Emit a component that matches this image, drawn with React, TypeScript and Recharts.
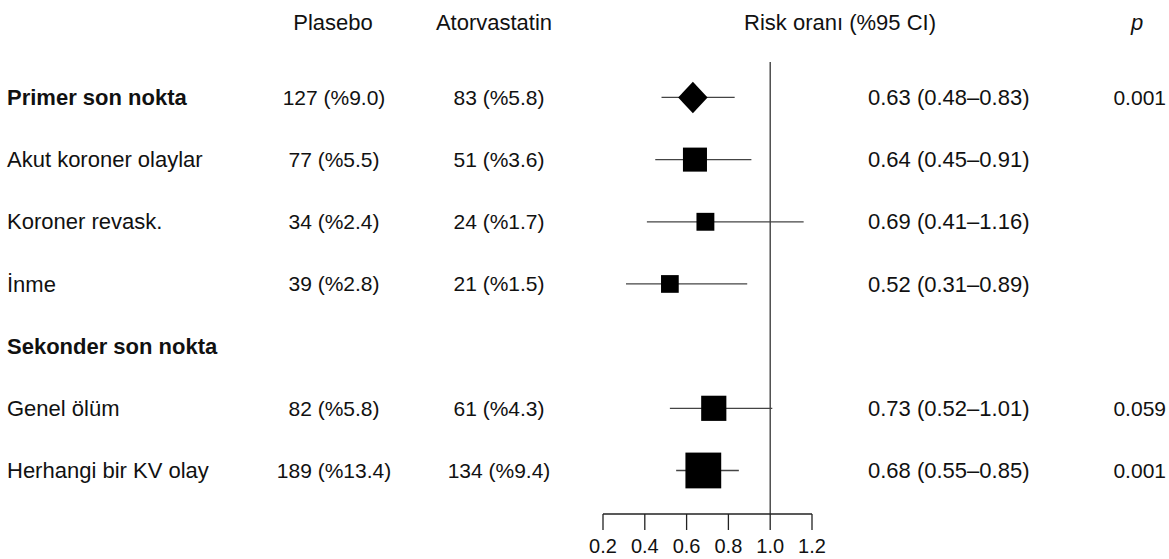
import { ScatterChart, Scatter, XAxis, YAxis, ErrorBar, ReferenceLine } from 'recharts';

const rowLabels = [
  'Primer son nokta',
  'Akut koroner olaylar',
  'Koroner revask.',
  'İnme',
  'Sekonder son nokta',
  'Genel ölüm',
  'Herhangi bir KV olay',
];
const boldLabels = ['Primer son nokta', 'Sekonder son nokta'];

const plaseboEvents = [127, 77, 34, 39, null, 82, 189];
const plaseboPct = [9.0, 5.5, 2.4, 2.8, null, 5.8, 13.4];
const atorvaEvents = [83, 51, 24, 21, null, 61, 134];
const atorvaPct = [5.8, 3.6, 1.7, 1.5, null, 4.3, 9.4];

const riskRatio = [0.63, 0.64, 0.69, 0.52, null, 0.73, 0.68];
const ciLow = [0.48, 0.45, 0.41, 0.31, null, 0.52, 0.55];
const ciHigh = [0.83, 0.91, 1.16, 0.89, null, 1.01, 0.85];
const pValues = ['0.001', '', '', '', '', '0.059', '0.001'];

const xTicks = [0.2, 0.4, 0.6, 0.8, 1.0, 1.2];
const headers = ['Plasebo', 'Atorvastatin', 'Risk oranı (%95 CI)', 'p'];

const FONT = '"Liberation Sans", Arial, Helvetica, sans-serif';
const INK = '#111';

const points = rowLabels
  .map((label, i) => ({
    row: i,
    label,
    hr: riskRatio[i],
    lo: ciLow[i],
    hi: ciHigh[i],
    err: riskRatio[i] == null ? null : [riskRatio[i]! - ciLow[i]!, ciHigh[i]! - riskRatio[i]!],
  }))
  .filter((d) => d.hr != null);

function countText(n: number | null, pct: number | null) {
  if (n == null || pct == null) return '';
  return `${n} (%${pct.toFixed(1)})`;
}

function RowTick(props: any) {
  const { y, payload } = props;
  const i = payload.value as number;
  const label = rowLabels[i];
  const bold = boldLabels.includes(label);
  const hr = riskRatio[i];
  return (
    <g fontFamily={FONT} fill={INK}>
      <text x={7} y={y} dy="0.35em" fontSize={22} fontWeight={bold ? 700 : 400}>
        {label}
      </text>
      <text x={334} y={y} dy="0.35em" fontSize={21} textAnchor="middle">
        {countText(plaseboEvents[i], plaseboPct[i])}
      </text>
      <text x={499} y={y} dy="0.35em" fontSize={21} textAnchor="middle">
        {countText(atorvaEvents[i], atorvaPct[i])}
      </text>
      {hr != null && (
        <text x={868} y={y} dy="0.35em" fontSize={22}>
          {`${hr.toFixed(2)} (${ciLow[i]!.toFixed(2)}–${ciHigh[i]!.toFixed(2)})`}
        </text>
      )}
      <text x={1166} y={y} dy="0.35em" fontSize={21} textAnchor="end">
        {pValues[i]}
      </text>
    </g>
  );
}

// marker size follows precision (inverse CI width on log scale)
function Marker(props: any) {
  const { cx, cy, payload } = props;
  if (cx == null || cy == null) return null;
  const size = 5 + 13.4 / Math.log(payload.hi / payload.lo);
  if (boldLabels.includes(payload.label)) {
    const h = size / 2 + 1;
    const w = size / 2;
    return (
      <polygon
        points={`${cx},${cy - h} ${cx + w},${cy} ${cx},${cy + h} ${cx - w},${cy}`}
        fill="#000"
      />
    );
  }
  return <rect x={cx - size / 2} y={cy - size / 2} width={size} height={size} fill="#000" />;
}

function Headers() {
  return (
    <g fontFamily={FONT} fill={INK} fontSize={22}>
      <text x={333} y={30} textAnchor="middle">{headers[0]}</text>
      <text x={494} y={30} textAnchor="middle">{headers[1]}</text>
      <text x={840} y={30} textAnchor="middle">{headers[2]}</text>
      <text x={1137} y={30} textAnchor="middle" fontStyle="italic">{headers[3]}</text>
    </g>
  );
}

export default function App() {
  return (
    <div style={{ position: 'absolute', left: 0, top: 0, background: '#fff' }}>
      <ScatterChart width={1169} height={559} margin={{ top: 62, right: 357, bottom: 0, left: 0 }}>
        <XAxis
          type="number"
          dataKey="hr"
          domain={[0.2, 1.2]}
          ticks={xTicks}
          tickFormatter={(v) => Number(v).toFixed(1)}
          tickSize={16}
          tickMargin={9}
          height={45}
          axisLine={{ stroke: '#222', strokeWidth: 1.3 }}
          tickLine={{ stroke: '#222', strokeWidth: 1.3 }}
          tick={{ fontSize: 20, fill: INK, fontFamily: FONT }}
          allowDataOverflow
        />
        <YAxis
          type="number"
          dataKey="row"
          domain={[-0.57, 6.7]}
          reversed
          ticks={[0, 1, 2, 3, 4, 5, 6]}
          width={603}
          axisLine={false}
          tickLine={false}
          tick={<RowTick />}
          allowDataOverflow
        />
        <ReferenceLine x={1} stroke="#333" strokeWidth={1.3} />
        <Scatter data={points} shape={() => null} isAnimationActive={false}>
          <ErrorBar dataKey="err" direction="x" width={0} stroke="#444" strokeWidth={1.3} />
        </Scatter>
        <Scatter data={points} shape={<Marker />} isAnimationActive={false} />
        <Headers />
      </ScatterChart>
    </div>
  );
}
